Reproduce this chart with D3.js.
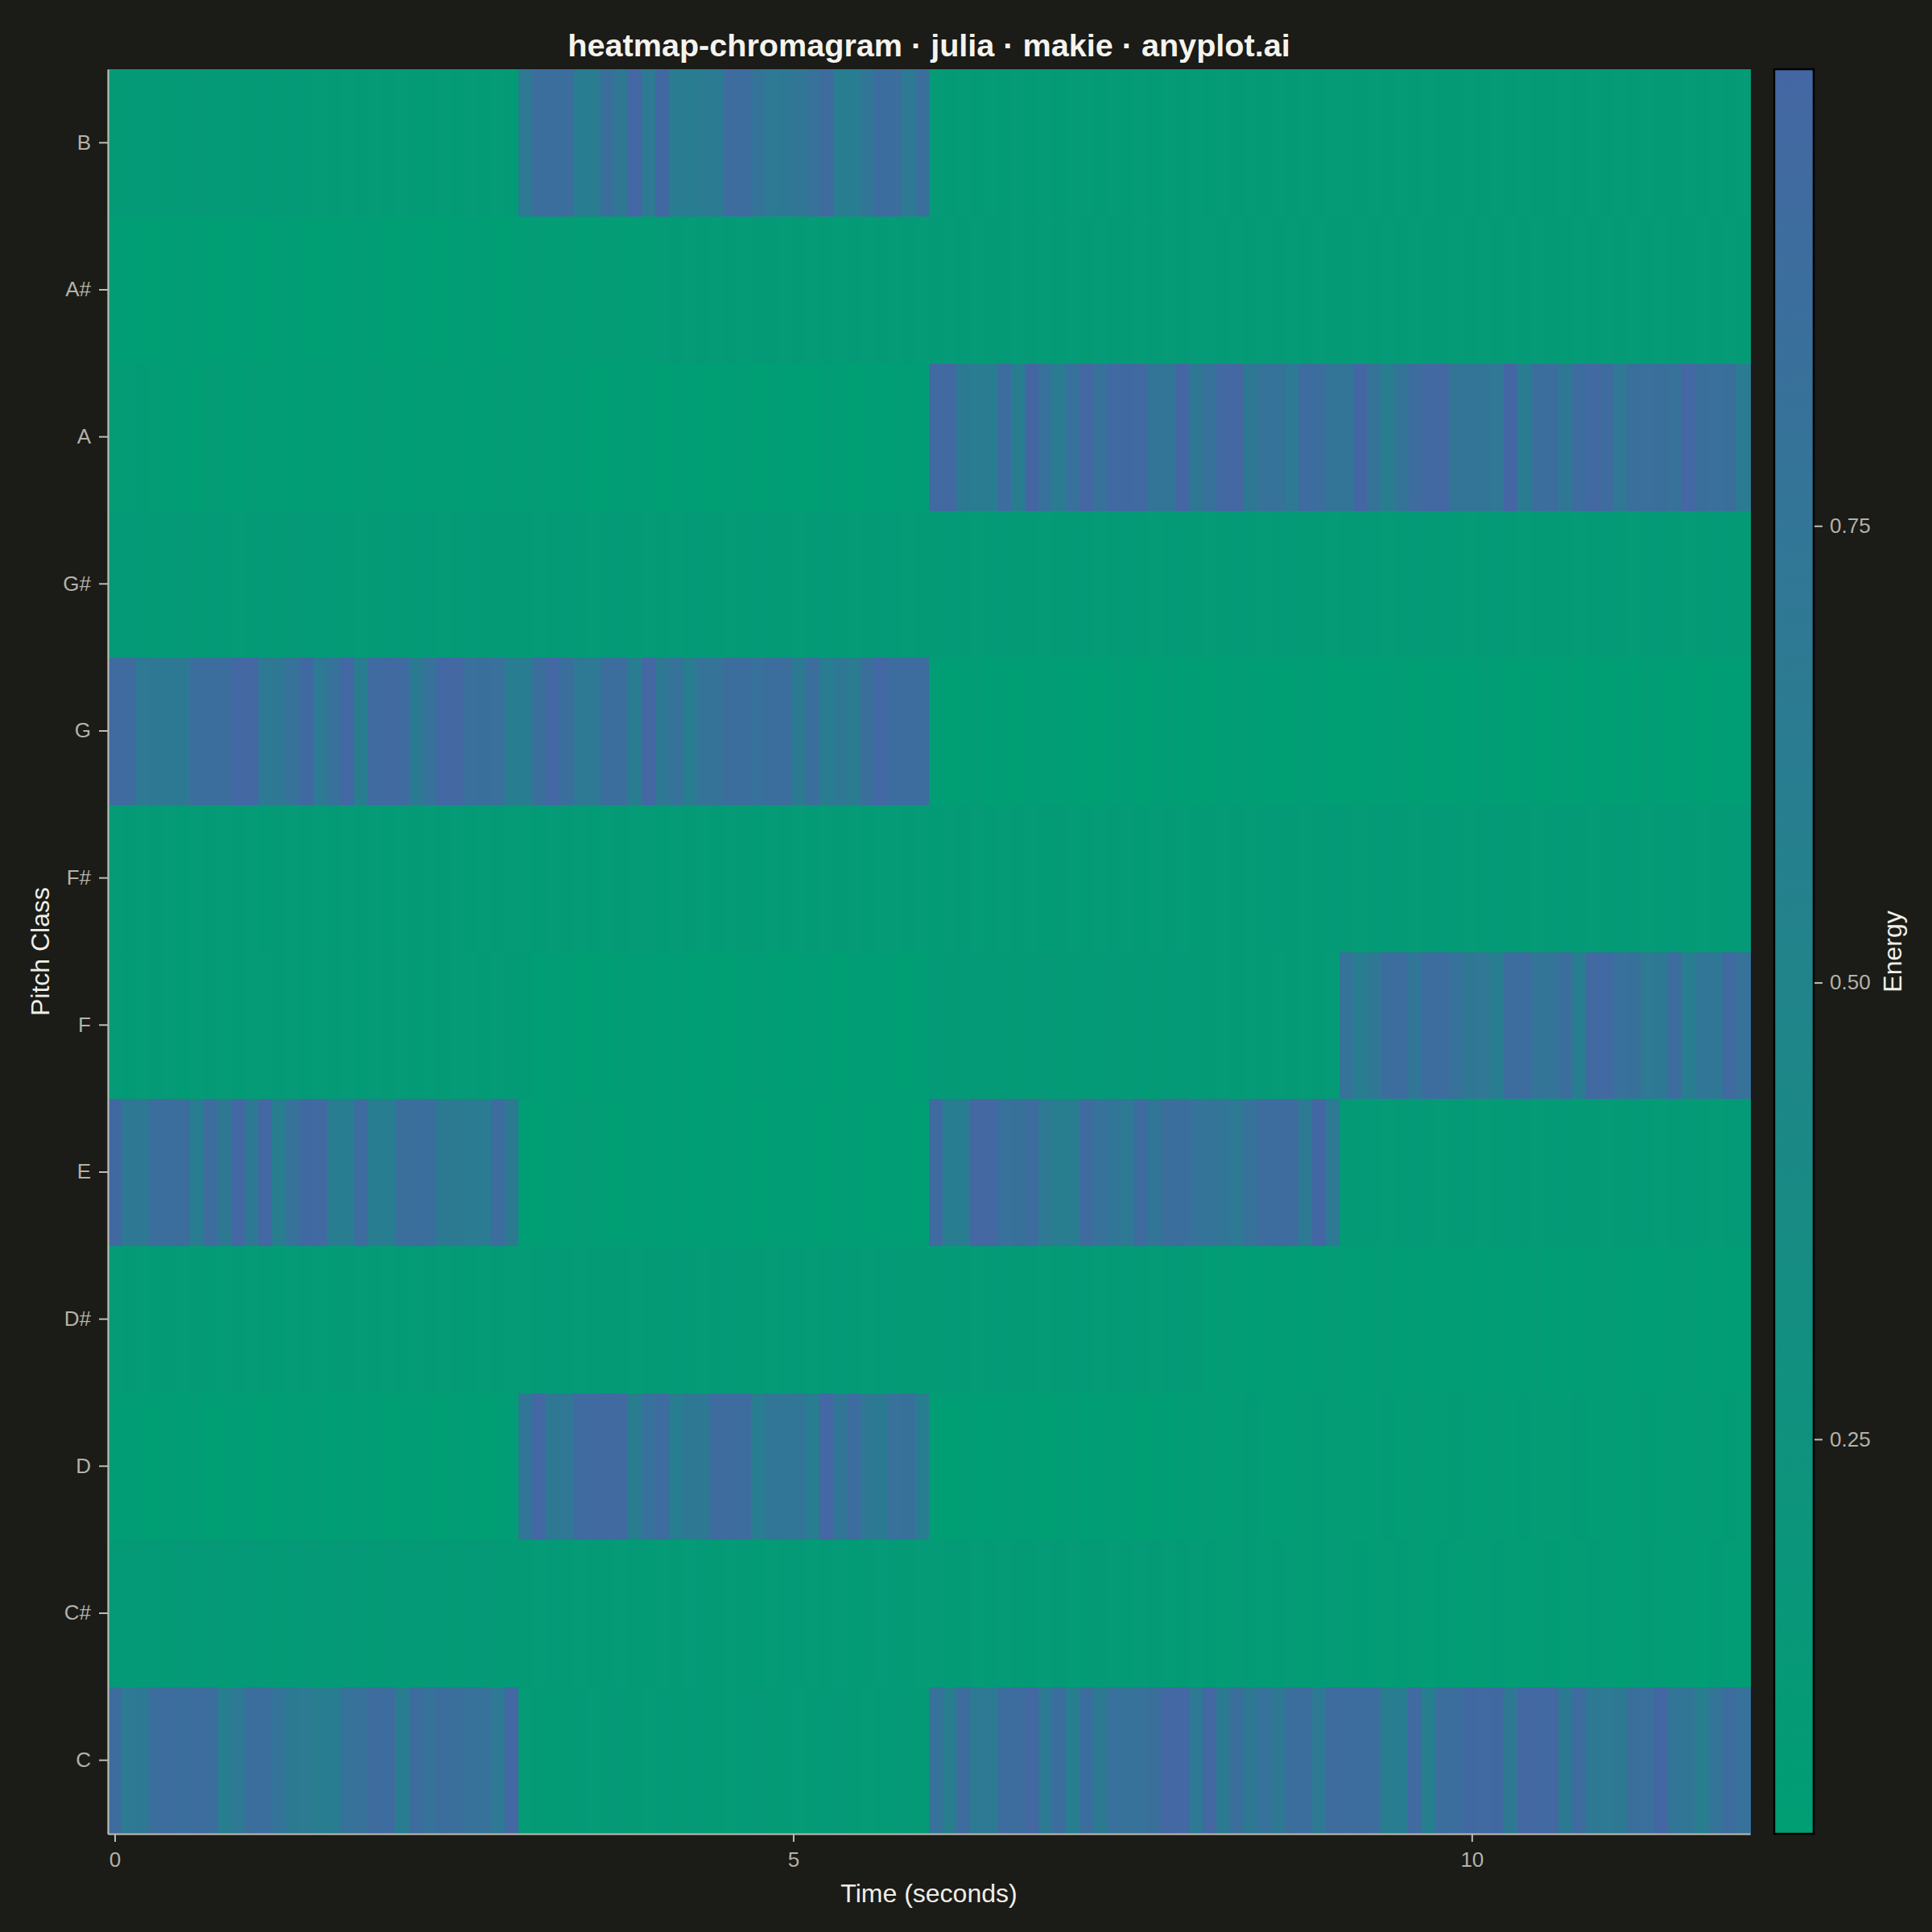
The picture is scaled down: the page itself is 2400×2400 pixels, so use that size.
<!DOCTYPE html>
<html>
<head>
<meta charset="utf-8">
<script src="https://cdn.jsdelivr.net/npm/d3@7"></script>
<style>
  html, body { margin: 0; padding: 0; background: #1b1b17; }
  svg { display: block; }
  text { font-family: "Liberation Sans", Arial, Helvetica, sans-serif; }
</style>
</head>
<body>
<svg id="chart" width="2400" height="2400"></svg>
<script>
// ---------------- data ----------------
const pitchClasses = ["C", "C#", "D", "D#", "E", "F", "F#", "G", "G#", "A", "A#", "B"];
const nFrames = 120;          // analysis frames
const duration = 12;          // seconds
const timeTicks = [0, 5, 10];
const energyTicks = [0.25, 0.50, 0.75];
const titleText = "heatmap-chromagram · julia · makie · anyplot.ai";
const xLabel = "Time (seconds)";
const yLabel = "Pitch Class";
const cbLabel = "Energy";

// chroma energy per pitch class, one value per frame (4 chords × 30 frames)
const energyC = [
  0.90,0.69,0.70,0.88,0.89,0.88,0.89,0.88,0.61,0.69,0.87,0.88,0.77,0.66,0.67,0.60,0.61,0.80,0.81,0.91,0.90,0.61,0.89,0.80,0.87,0.86,0.80,0.81,0.69,0.99,
  0.09,0.10,0.08,0.10,0.11,0.09,0.10,0.12,0.10,0.09,0.11,0.10,0.12,0.11,0.10,0.09,0.11,0.12,0.10,0.11,0.09,0.10,0.11,0.12,0.10,0.09,0.10,0.11,0.12,0.10,
  0.80,0.60,0.91,0.69,0.69,0.90,0.89,0.98,0.69,0.87,0.60,0.87,0.66,0.83,0.80,0.80,0.86,0.98,0.99,0.69,0.98,0.66,0.86,0.70,0.81,0.70,0.87,0.88,0.69,0.91,
  0.90,0.91,0.90,0.60,0.61,0.93,0.59,0.87,0.88,0.96,0.95,0.96,0.70,0.98,0.97,0.98,0.66,0.91,0.70,0.69,0.68,0.86,0.85,1.00,0.75,0.74,0.60,0.77,0.89,0.80
];
const energyCs = [
  0.11,0.10,0.12,0.11,0.10,0.12,0.11,0.12,0.10,0.11,0.12,0.11,0.10,0.11,0.12,0.10,0.11,0.12,0.11,0.10,0.12,0.11,0.10,0.12,0.11,0.10,0.11,0.12,0.10,0.11,
  0.10,0.09,0.11,0.10,0.09,0.10,0.11,0.09,0.10,0.08,0.09,0.10,0.09,0.11,0.10,0.09,0.10,0.08,0.09,0.10,0.11,0.09,0.10,0.09,0.08,0.10,0.09,0.11,0.10,0.09,
  0.09,0.08,0.10,0.09,0.08,0.09,0.10,0.08,0.09,0.10,0.09,0.08,0.10,0.09,0.08,0.09,0.10,0.09,0.08,0.09,0.08,0.07,0.09,0.08,0.07,0.08,0.09,0.07,0.08,0.09,
  0.07,0.08,0.06,0.07,0.08,0.07,0.06,0.08,0.07,0.06,0.07,0.08,0.07,0.06,0.07,0.08,0.06,0.07,0.08,0.07,0.06,0.07,0.08,0.07,0.06,0.07,0.06,0.08,0.07,0.06
];
const energyD = [
  0.05,0.06,0.05,0.04,0.06,0.05,0.06,0.04,0.05,0.06,0.05,0.04,0.05,0.06,0.05,0.06,0.04,0.05,0.06,0.05,0.04,0.05,0.06,0.05,0.04,0.06,0.05,0.04,0.05,0.06,
  0.73,0.99,0.70,0.71,0.93,0.94,0.93,0.94,0.60,0.83,0.90,0.62,0.70,0.70,0.91,0.91,0.90,0.62,0.73,0.74,0.73,0.61,0.99,0.73,0.89,0.70,0.66,0.83,0.82,0.61,
  0.05,0.04,0.06,0.05,0.04,0.05,0.06,0.05,0.04,0.05,0.06,0.04,0.05,0.06,0.05,0.04,0.05,0.04,0.06,0.05,0.07,0.06,0.07,0.08,0.06,0.07,0.06,0.07,0.08,0.07,
  0.07,0.06,0.07,0.08,0.06,0.07,0.06,0.07,0.08,0.07,0.06,0.07,0.06,0.08,0.07,0.06,0.07,0.08,0.06,0.07,0.06,0.07,0.08,0.06,0.07,0.06,0.07,0.06,0.08,0.07
];
const energyDs = [
  0.09,0.10,0.09,0.08,0.10,0.09,0.10,0.08,0.09,0.10,0.09,0.10,0.08,0.09,0.10,0.09,0.08,0.10,0.09,0.10,0.09,0.08,0.09,0.10,0.09,0.10,0.08,0.09,0.10,0.09,
  0.09,0.10,0.11,0.10,0.09,0.10,0.11,0.10,0.09,0.10,0.10,0.11,0.10,0.09,0.10,0.11,0.10,0.10,0.09,0.11,0.10,0.09,0.10,0.11,0.10,0.09,0.10,0.11,0.10,0.10,
  0.10,0.11,0.10,0.09,0.10,0.11,0.10,0.10,0.09,0.10,0.11,0.10,0.09,0.10,0.11,0.10,0.09,0.10,0.11,0.10,0.06,0.07,0.06,0.05,0.06,0.07,0.06,0.05,0.06,0.07,
  0.06,0.05,0.06,0.07,0.05,0.06,0.05,0.06,0.07,0.06,0.05,0.06,0.05,0.06,0.07,0.05,0.06,0.05,0.06,0.07,0.06,0.05,0.06,0.05,0.06,0.07,0.05,0.06,0.05,0.06
];
const energyE = [
  0.96,0.70,0.70,0.87,0.88,0.87,0.62,0.90,0.70,0.99,0.70,0.99,0.60,0.80,0.96,0.97,0.62,0.62,0.90,0.62,0.61,0.86,0.87,0.86,0.66,0.66,0.65,0.65,0.90,0.66,
  0.05,0.04,0.05,0.06,0.07,0.06,0.05,0.04,0.05,0.06,0.05,0.06,0.05,0.04,0.05,0.06,0.05,0.04,0.05,0.06,0.05,0.05,0.04,0.06,0.05,0.04,0.05,0.06,0.05,0.04,
  0.93,0.62,0.62,0.98,0.98,0.83,0.82,0.90,0.69,0.60,0.61,0.91,0.81,0.73,0.69,0.91,0.73,0.86,0.87,0.80,0.77,0.76,0.69,0.80,0.91,0.90,0.91,0.69,1.00,0.69,
  0.10,0.11,0.10,0.09,0.10,0.11,0.10,0.09,0.11,0.10,0.09,0.10,0.11,0.10,0.09,0.10,0.11,0.10,0.10,0.09,0.10,0.11,0.10,0.09,0.10,0.11,0.10,0.09,0.10,0.11
];
const energyF = [
  0.09,0.08,0.09,0.10,0.09,0.08,0.09,0.10,0.09,0.08,0.09,0.09,0.10,0.09,0.08,0.09,0.10,0.09,0.08,0.09,0.10,0.09,0.08,0.09,0.10,0.09,0.09,0.08,0.09,0.10,
  0.08,0.05,0.06,0.05,0.04,0.05,0.04,0.06,0.05,0.06,0.05,0.06,0.05,0.04,0.05,0.04,0.05,0.06,0.05,0.04,0.05,0.06,0.05,0.04,0.05,0.05,0.06,0.05,0.04,0.05,
  0.11,0.10,0.11,0.12,0.10,0.11,0.10,0.11,0.12,0.10,0.11,0.10,0.11,0.12,0.10,0.11,0.10,0.11,0.12,0.11,0.10,0.09,0.10,0.09,0.10,0.09,0.10,0.09,0.10,0.09,
  0.79,0.62,0.70,0.88,0.89,0.73,0.90,0.89,0.80,0.70,0.71,0.61,0.90,0.89,0.76,0.77,0.87,0.61,0.94,0.95,0.83,0.82,0.69,0.68,0.90,0.61,0.73,0.72,0.94,0.80
];
const energyFs = [
  0.09,0.10,0.09,0.10,0.09,0.08,0.09,0.10,0.09,0.10,0.09,0.08,0.10,0.09,0.10,0.09,0.08,0.09,0.10,0.09,0.08,0.09,0.10,0.09,0.10,0.09,0.08,0.09,0.10,0.09,
  0.09,0.08,0.09,0.10,0.09,0.08,0.09,0.10,0.09,0.09,0.08,0.09,0.10,0.09,0.08,0.09,0.10,0.08,0.09,0.10,0.09,0.08,0.09,0.10,0.09,0.08,0.09,0.09,0.10,0.09,
  0.08,0.09,0.10,0.09,0.08,0.09,0.10,0.09,0.08,0.10,0.09,0.08,0.09,0.10,0.09,0.08,0.09,0.10,0.09,0.08,0.10,0.09,0.10,0.09,0.10,0.11,0.10,0.09,0.10,0.11,
  0.10,0.09,0.10,0.11,0.10,0.09,0.10,0.11,0.10,0.09,0.10,0.11,0.10,0.10,0.09,0.10,0.11,0.10,0.09,0.10,0.11,0.10,0.09,0.10,0.11,0.10,0.09,0.10,0.10,0.11
];
const energyG = [
  0.93,0.92,0.69,0.70,0.68,0.68,0.87,0.88,0.87,0.99,0.98,0.69,0.70,0.80,0.96,0.69,0.80,0.99,0.60,0.93,0.94,0.93,0.66,0.80,0.99,0.98,0.85,0.84,0.85,0.62,
  0.62,0.86,0.99,0.86,0.69,0.69,0.87,0.87,0.62,0.99,0.70,0.80,0.62,0.78,0.78,0.87,0.88,0.83,0.87,0.88,0.66,0.87,0.62,0.70,0.64,0.86,0.99,0.90,0.89,0.90,
  0.05,0.04,0.05,0.06,0.04,0.05,0.04,0.05,0.06,0.05,0.04,0.05,0.04,0.06,0.05,0.04,0.05,0.06,0.04,0.05,0.04,0.05,0.06,0.05,0.04,0.05,0.04,0.06,0.05,0.04,
  0.04,0.05,0.04,0.05,0.06,0.04,0.05,0.04,0.05,0.04,0.06,0.05,0.04,0.05,0.04,0.05,0.06,0.04,0.05,0.04,0.05,0.04,0.06,0.05,0.04,0.05,0.04,0.05,0.04,0.05
];
const energyGs = [
  0.11,0.10,0.11,0.10,0.11,0.12,0.10,0.11,0.10,0.09,0.10,0.11,0.10,0.12,0.11,0.10,0.11,0.10,0.09,0.10,0.11,0.10,0.11,0.10,0.09,0.10,0.11,0.10,0.10,0.11,
  0.10,0.09,0.10,0.11,0.10,0.09,0.10,0.11,0.10,0.09,0.10,0.09,0.10,0.11,0.10,0.09,0.10,0.11,0.10,0.10,0.09,0.10,0.11,0.10,0.09,0.10,0.11,0.10,0.09,0.10,
  0.10,0.11,0.10,0.09,0.10,0.11,0.10,0.10,0.09,0.10,0.11,0.10,0.09,0.10,0.11,0.10,0.09,0.10,0.11,0.10,0.09,0.10,0.11,0.10,0.09,0.10,0.11,0.10,0.10,0.09,
  0.10,0.11,0.10,0.09,0.10,0.11,0.10,0.11,0.10,0.09,0.10,0.11,0.10,0.09,0.10,0.11,0.10,0.09,0.10,0.11,0.10,0.09,0.10,0.11,0.10,0.09,0.10,0.11,0.10,0.10
];
const energyA = [
  0.07,0.07,0.08,0.07,0.06,0.05,0.04,0.07,0.06,0.05,0.07,0.06,0.06,0.05,0.06,0.07,0.06,0.05,0.06,0.07,0.06,0.05,0.06,0.07,0.06,0.06,0.05,0.06,0.07,0.06,
  0.06,0.07,0.06,0.05,0.06,0.034,0.04,0.05,0.06,0.05,0.04,0.05,0.04,0.05,0.04,0.05,0.06,0.04,0.05,0.04,0.05,0.04,0.06,0.05,0.04,0.05,0.04,0.05,0.06,0.05,
  0.95,0.97,0.66,0.63,0.63,0.90,0.60,1.00,0.81,0.63,0.83,0.98,0.81,0.95,0.96,0.95,0.76,0.75,1.00,0.70,0.81,0.97,0.98,0.70,0.78,0.80,0.69,0.89,0.88,0.76,
  0.75,1.00,0.78,0.60,0.76,0.90,0.97,0.98,0.76,0.75,0.76,0.71,1.00,0.61,0.87,0.88,0.70,0.90,0.97,0.91,0.71,0.86,0.85,0.86,0.81,0.99,0.86,0.85,0.86,0.65
];
const energyAs = [
  0.05,0.04,0.05,0.04,0.05,0.06,0.05,0.04,0.05,0.04,0.05,0.04,0.06,0.05,0.04,0.05,0.04,0.05,0.06,0.05,0.04,0.05,0.04,0.05,0.04,0.05,0.06,0.05,0.04,0.05,
  0.06,0.07,0.06,0.07,0.06,0.07,0.06,0.07,0.06,0.07,0.09,0.10,0.09,0.10,0.09,0.10,0.09,0.10,0.10,0.09,0.10,0.09,0.10,0.09,0.10,0.09,0.10,0.09,0.10,0.09,
  0.10,0.09,0.10,0.09,0.10,0.10,0.09,0.10,0.09,0.10,0.09,0.10,0.09,0.10,0.10,0.09,0.10,0.09,0.10,0.09,0.09,0.10,0.09,0.10,0.09,0.10,0.09,0.10,0.09,0.10,
  0.10,0.09,0.10,0.09,0.10,0.09,0.10,0.10,0.09,0.10,0.09,0.10,0.09,0.10,0.09,0.10,0.10,0.09,0.10,0.09,0.10,0.09,0.10,0.09,0.10,0.10,0.09,0.10,0.09,0.10
];
const energyB = [
  0.10,0.11,0.10,0.11,0.10,0.11,0.12,0.11,0.10,0.11,0.10,0.11,0.10,0.11,0.10,0.09,0.10,0.09,0.10,0.09,0.10,0.09,0.10,0.08,0.09,0.08,0.09,0.08,0.09,0.08,
  0.69,0.87,0.88,0.87,0.62,0.63,0.86,0.70,0.99,0.69,0.96,0.63,0.62,0.64,0.65,0.91,0.90,0.77,0.69,0.70,0.74,0.80,0.91,0.62,0.62,0.73,0.89,0.88,0.69,0.86,
  0.09,0.08,0.09,0.08,0.09,0.08,0.09,0.08,0.09,0.08,0.09,0.09,0.08,0.09,0.08,0.09,0.08,0.09,0.10,0.09,0.08,0.09,0.10,0.09,0.10,0.09,0.10,0.09,0.10,0.09,
  0.09,0.10,0.09,0.10,0.09,0.10,0.09,0.10,0.10,0.09,0.10,0.09,0.10,0.09,0.10,0.10,0.09,0.10,0.09,0.10,0.09,0.10,0.09,0.10,0.10,0.09,0.10,0.09,0.10,0.09
];

const energyRows = [energyC, energyCs, energyD, energyDs, energyE, energyF,
                    energyFs, energyG, energyGs, energyA, energyAs, energyB];

// ---------------- layout / style ----------------
const W = 2400, H = 2400;
const plot = { left: 134, right: 2174, top: 86, bottom: 2278 };
const cbar = { left: 2204, right: 2253 };
const bg = "#1b1b17";
const spineColor = "#bfbdb2";
const tickLabelColor = "#b3b2a9";
const labelColor = "#efeee7";
const lowColor = "#009E73", highColor = "#4467A3";
const tickFont = "26px";

const times = d3.range(nFrames).map(i => i * duration / (nFrames - 1));
const dt = duration / (nFrames - 1);

const cells = [];
pitchClasses.forEach((p, r) => {
  energyRows[r].forEach((v, i) => cells.push({ pitch: p, t: times[i], v }));
});

const svg = d3.select("#chart");
svg.append("rect").attr("width", W).attr("height", H).attr("fill", bg);

const x = d3.scaleLinear()
  .domain([times[0] - dt / 2, times[nFrames - 1] + dt / 2])
  .range([plot.left, plot.right]);
const y = d3.scaleBand().domain(pitchClasses).range([plot.bottom, plot.top]).paddingInner(0).paddingOuter(0);
const extent = d3.extent(cells, d => d.v);
const color = d3.scaleSequential(d3.interpolateRgb(lowColor, highColor)).domain(extent);

// heatmap cells
svg.append("g")
  .attr("shape-rendering", "crispEdges")
  .selectAll("rect")
  .data(cells)
  .join("rect")
  .attr("x", d => x(d.t - dt / 2))
  .attr("y", d => y(d.pitch))
  .attr("width", d => x(d.t + dt / 2) - x(d.t - dt / 2) + 0.6)
  .attr("height", y.bandwidth() + 0.6)
  .attr("fill", d => color(d.v));

// axes
const xAxis = svg.append("g")
  .attr("transform", `translate(0,${plot.bottom})`)
  .call(d3.axisBottom(x).tickValues(timeTicks).tickFormat(d3.format("d"))
    .tickSize(10).tickSizeOuter(0).tickPadding(13));
const yAxis = svg.append("g")
  .attr("transform", `translate(${plot.left},0)`)
  .call(d3.axisLeft(y).tickSize(11).tickSizeOuter(0).tickPadding(10));

[xAxis, yAxis].forEach(g => {
  g.select(".domain").attr("stroke", spineColor).attr("stroke-width", 2.2);
  g.selectAll(".tick line").attr("stroke", spineColor).attr("stroke-width", 2);
  g.selectAll(".tick text").attr("fill", tickLabelColor)
    .style("font-size", tickFont).style("font-family", '"Liberation Sans", Arial, sans-serif');
});

// title and labels
svg.append("text")
  .attr("x", (plot.left + plot.right) / 2).attr("y", 70)
  .attr("text-anchor", "middle")
  .attr("fill", "#f4f3ed")
  .style("font-size", "39.6px").style("font-weight", "bold")
  .text(titleText);

svg.append("text")
  .attr("x", (plot.left + plot.right) / 2).attr("y", 2363)
  .attr("text-anchor", "middle")
  .attr("fill", labelColor)
  .style("font-size", "32px")
  .text(xLabel);

svg.append("text")
  .attr("transform", `translate(61,${(plot.top + plot.bottom) / 2}) rotate(-90)`)
  .attr("text-anchor", "middle")
  .attr("fill", labelColor)
  .style("font-size", "32px")
  .text(yLabel);

// colorbar
const cy = d3.scaleLinear().domain(extent).range([plot.bottom, plot.top]);
const defs = svg.append("defs");
const grad = defs.append("linearGradient").attr("id", "cbgrad")
  .attr("x1", 0).attr("y1", 1).attr("x2", 0).attr("y2", 0);
d3.range(0, 1.0001, 0.05).forEach(s => {
  grad.append("stop").attr("offset", s)
    .attr("stop-color", color(extent[0] + s * (extent[1] - extent[0])));
});
svg.append("rect")
  .attr("x", cbar.left).attr("y", plot.top)
  .attr("width", cbar.right - cbar.left).attr("height", plot.bottom - plot.top)
  .attr("fill", "url(#cbgrad)")
  .attr("stroke", "#000").attr("stroke-width", 2.5);

const cAxis = svg.append("g")
  .attr("transform", `translate(${cbar.right + 1},0)`)
  .call(d3.axisRight(cy).tickValues(energyTicks).tickFormat(d3.format(".2f"))
    .tickSize(10).tickSizeOuter(0).tickPadding(9));
cAxis.select(".domain").remove();
cAxis.selectAll(".tick line").attr("stroke", spineColor).attr("stroke-width", 2);
cAxis.selectAll(".tick text").attr("fill", tickLabelColor)
  .style("font-size", tickFont).style("font-family", '"Liberation Sans", Arial, sans-serif');

svg.append("text")
  .attr("transform", `translate(2362,${(plot.top + plot.bottom) / 2}) rotate(-90)`)
  .attr("text-anchor", "middle")
  .attr("fill", labelColor)
  .style("font-size", "32px")
  .text(cbLabel);
</script>
</body>
</html>
